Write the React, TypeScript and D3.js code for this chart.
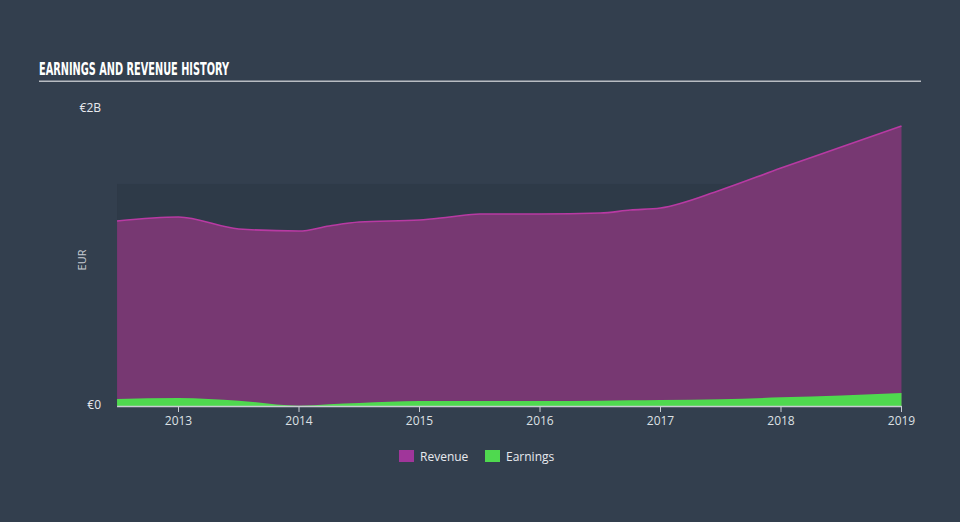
import React from "react";
import * as d3 from "d3";

const years = [2012.49, 2013.0, 2013.5, 2014.0, 2014.25, 2014.5, 2015.0, 2015.25, 2015.5, 2016.0, 2016.5, 2016.75, 2017.0, 2017.5, 2018.0, 2018.5, 2019.0];
const revenue = [1.242, 1.268, 1.188, 1.174, 1.208, 1.235, 1.248, 1.268, 1.289, 1.289, 1.295, 1.315, 1.329, 1.45, 1.597, 1.738, 1.879];
const earnings = [0.047, 0.054, 0.035, 0.002, 0.012, 0.02, 0.033, 0.034, 0.034, 0.034, 0.036, 0.038, 0.04, 0.045, 0.058, 0.07, 0.087];
const xTicks = [2013, 2014, 2015, 2016, 2017, 2018, 2019];
const yTickLabels = ["€0", "€2B"];
const legendItems = ["Revenue", "Earnings"];

export default function App() {
  const W = 960, H = 522;
  const x = d3.scaleLinear().domain([2013, 2019]).range([178.5, 901.5]);
  const y = d3.scaleLinear().domain([0, 2]).range([406, 108]);
  const data = years.map((yr, i) => ({ yr, r: revenue[i], e: earnings[i] }));
  const revArea = d3.area<any>().x(d => x(d.yr)).y0(y(0)).y1(d => y(d.r)).curve(d3.curveMonotoneX);
  const revLine = d3.line<any>().x(d => x(d.yr)).y(d => y(d.r)).curve(d3.curveMonotoneX);
  const earnArea = d3.area<any>().x(d => x(d.yr)).y0(y(0)).y1(d => y(d.e)).curve(d3.curveMonotoneX);
  const x0 = x(years[0]);
  const x1 = x(years[years.length - 1]);
  const colors = ["#a0369a", "#4fd94f"];
  return (
    <svg width={W} height={H} style={{ position: "absolute", left: 0, top: 0, background: "#333f4e" }}>
      <rect x={0} y={0} width={W} height={H} fill="#333f4e" />
      <text x={39} y={75} fill="#ffffff" fontFamily="'DejaVu Sans Condensed', 'Liberation Sans Narrow', sans-serif" fontWeight="bold" fontSize={17} textLength={190} lengthAdjust="spacingAndGlyphs">EARNINGS AND REVENUE HISTORY</text>
      <rect x={39} y={80.5} width={882} height={1.5} fill="#b8bcc2" />
      <rect x={x0} y={y(1.49)} width={x1 - x0} height={y(0) - y(1.49)} fill="#2e3a48" />
      <path d={revArea(data) || ""} fill="#773872" />
      <path d={revLine(data) || ""} fill="none" stroke="#b83aa3" strokeWidth={1.6} />
      <path d={earnArea(data) || ""} fill="#4fd94f" />
      <line x1={x0} x2={x1} y1={y(0) + 0.5} y2={y(0) + 0.5} stroke="#c8ccd2" strokeWidth={1.5} />
      {xTicks.map(t => (
        <g key={t}>
          <line x1={x(t)} x2={x(t)} y1={y(0)} y2={y(0) + 6} stroke="#c8ccd2" strokeWidth={1} />
          <text x={x(t)} y={425} textAnchor="middle" fill="#dde0e4" fontFamily="'Open Sans', sans-serif" fontSize={12}>{t}</text>
        </g>
      ))}
      <text x={101} y={y(0) + 3} textAnchor="end" fill="#e8eaee" fontFamily="'Open Sans', sans-serif" fontSize={12}>{yTickLabels[0]}</text>
      <text x={101} y={112} textAnchor="end" fill="#e8eaee" fontFamily="'Open Sans', sans-serif" fontSize={12}>{yTickLabels[1]}</text>
      <text transform="translate(86,260) rotate(-90)" textAnchor="middle" fill="#c8ccd2" fontFamily="'Open Sans', sans-serif" fontSize={11}>EUR</text>
      {legendItems.map((name, i) => {
        const lx = i === 0 ? 399 : 485;
        return (
          <g key={name}>
            <rect x={lx} y={450} width={15} height={12} fill={colors[i]} />
            <text x={lx + 21} y={460.5} fill="#e8eaee" fontFamily="'Open Sans', sans-serif" fontSize={12}>{name}</text>
          </g>
        );
      })}
    </svg>
  );
}
